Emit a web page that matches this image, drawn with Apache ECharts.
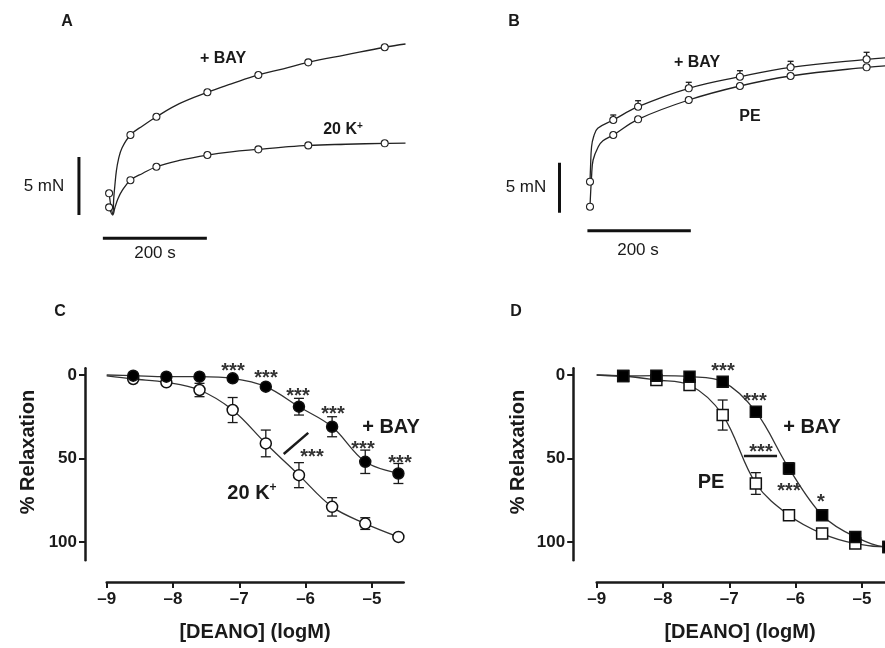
<!DOCTYPE html>
<html><head><meta charset="utf-8">
<script src="https://cdn.jsdelivr.net/npm/echarts@6/dist/echarts.min.js"></script>
<style>html,body{margin:0;padding:0;background:#fff}#c{width:885px;height:648px}</style>
</head><body><div id="c"></div>
<script>
// ---------- Panel A: force traces (time s, force mN) ----------
const aTimeBay  = [-5, 2, 4, 6, 9, 13, 20, 36, 60, 86, 130, 184, 230, 282, 330, 378, 450, 525, 565];
const aForceBay = [1.87, 0.1, 1.5, 2.5, 3.8, 4.8, 5.8, 6.9, 7.7, 8.47, 9.6, 10.58, 11.3, 12.07, 12.6, 13.16, 13.8, 14.46, 14.74];
const aTimeK    = [-5, 2, 6, 12, 20, 36, 60, 86, 130, 184, 230, 282, 330, 378, 450, 525, 565];
const aForceK   = [0.66, 0.0, 0.6, 1.4, 2.1, 3.0, 3.6, 4.16, 4.7, 5.17, 5.45, 5.66, 5.85, 6.0, 6.1, 6.18, 6.2];
const aMarkT    = [-5, 36, 86, 184, 282, 378, 525];
const aMarkBay  = [1.87, 6.9, 8.47, 10.58, 12.07, 13.16, 14.46];
const aMarkK    = [0.66, 3.0, 4.16, 5.17, 5.66, 6.0, 6.18];
// ---------- Panel B ----------
const bTimeBay  = [0, 1, 3, 7, 15, 45, 93, 191, 290, 388, 535, 580];
const bForceBay = [3.1, 4.5, 6.6, 7.6, 8.44, 9.27, 10.6, 12.44, 13.6, 14.54, 15.34, 15.5];
const bTimePE   = [0, 3, 6, 16, 25, 45, 93, 191, 290, 388, 535, 580];
const bForcePE  = [0.6, 3.6, 5.27, 6.6, 7.2, 7.77, 9.34, 11.27, 12.67, 13.67, 14.54, 14.7];
const bMarkT    = [0, 45, 93, 191, 290, 388, 535];
const bMarkBay  = [3.1, 9.27, 10.6, 12.44, 13.6, 14.54, 15.34];
const bMarkBayErr = [0, 0.5, 0.6, 0.6, 0.6, 0.6, 0.7];
const bMarkPE   = [0.6, 7.77, 9.34, 11.27, 12.67, 13.67, 14.54];
// scale bars: [time, force] endpoints
const aScaleV = [[-63, 0], [-63, 5]];
const aScaleH = [[-17, -2], [183, -2]];
const bScaleV = [[-59, 0], [-59, 5]];
const bScaleH = [[-5, -1.8], [195, -1.8]];
// ---------- Panels C & D: concentration-response ----------
const logX     = [-8.6, -8.1, -7.6, -7.1, -6.6, -6.1, -5.6, -5.1, -4.6];
const cK       = [2.4, 4.4, 9, 21, 41, 60, 79, 89, 97];
const cKErr    = [0, 0, 4, 7.5, 8, 7.5, 5.5, 3.5, 0];
const cBay     = [0.4, 1, 1, 2, 7, 19, 31, 52, 59];
const cBayErr  = [0, 0, 0, 0, 1, 5, 6, 7, 6];
const dPE      = [0.6, 3, 6, 24, 65, 84, 95, 101, 103];
const dPEErr   = [0, 0, 3, 9, 6.5, 2, 0, 0, 0];
const dBay     = [0.6, 0.4, 1, 4, 22, 56, 84, 97, 103];
const dBayErr  = [0, 0, 0, 0, 2, 3.5, 2, 0, 0];
// fitted curve start values at log = -9
const curveStartX = -9;
const cKStart = 0.5, cBayStart = 0, dPEStart = 0, dBayStart = 0;
const dCurveEndX = -4.3;
const xTicks = [-9, -8, -7, -6, -5];
const yTicks = [0, 50, 100];
// significance bars
const cSlash = [[-6.33, 47.3], [-5.96, 34.7]];
const dBar   = [[-6.78, 48.5], [-6.28, 48.5]];

const FONT = 'Liberation Sans, Arial, Helvetica, sans-serif';
const INK = '#1a1a1a';
const zip = (a, b) => a.map((v, i) => [v, b[i]]);
const zip3 = (a, b, c) => a.map((v, i) => [v, b[i], c[i]]);

const chart = echarts.init(document.getElementById('c'), null, {renderer: 'canvas'});

function hiddenAxes(idx, min, max, ymin, ymax) {
  return {
    x: {gridIndex: idx, type: 'value', min: min, max: max, show: false},
    y: {gridIndex: idx, type: 'value', min: ymin, max: ymax, show: false}
  };
}
const aAx = hiddenAxes(0, -100, 600, -3, 16);
const bAx = hiddenAxes(1, -100, 570.6, -3, 18);

function doseX(idx, max) {
  return {
    gridIndex: idx, type: 'value', min: -9, max: max, position: 'bottom', offset: 21.7,
    axisLine: {show: true, onZero: false, lineStyle: {color: INK, width: 2.5}},
    axisTick: {show: true, length: 6, lineStyle: {color: INK, width: 2}, customValues: xTicks},
    axisLabel: {show: true, customValues: xTicks, margin: 9, color: INK, fontSize: 17, fontWeight: 'bold', fontFamily: FONT,
      formatter: v => (v < 0 ? '\u2013' + Math.abs(v) : String(v))},
    splitLine: {show: false}
  };
}
function doseY(idx, off) {
  return {
    gridIndex: idx, type: 'value', min: -4, max: 111, inverse: true, position: 'left', offset: off,
    axisLine: {show: true, onZero: false, lineStyle: {color: INK, width: 2.5}},
    axisTick: {show: true, length: 6, lineStyle: {color: INK, width: 2}, customValues: yTicks},
    axisLabel: {show: true, customValues: yTicks, margin: 8, color: INK, fontSize: 17, fontWeight: 'bold', fontFamily: FONT},
    splitLine: {show: false}
  };
}

function errBars(xi, yi, data, upOnly, capHalf) {
  return {
    type: 'custom', xAxisIndex: xi, yAxisIndex: yi, z: 3, silent: true, clip: false,
    data: data,
    renderItem: function (params, api) {
      const x = api.value(0), y = api.value(1), e = api.value(2);
      if (!(e > 0)) return null;
      const p1 = api.coord([x, y + e]);
      const p2 = upOnly ? api.coord([x, y]) : api.coord([x, y - e]);
      const st = {stroke: INK, lineWidth: 1.3};
      const kids = [{type: 'line', shape: {x1: p1[0], y1: p1[1], x2: p2[0], y2: p2[1]}, style: st}];
      kids.push({type: 'line', shape: {x1: p1[0] - capHalf, y1: p1[1], x2: p1[0] + capHalf, y2: p1[1]}, style: st});
      if (!upOnly) kids.push({type: 'line', shape: {x1: p2[0] - capHalf, y1: p2[1], x2: p2[0] + capHalf, y2: p2[1]}, style: st});
      return {type: 'group', children: kids};
    }
  };
}

function traceLine(xi, data) {
  return {type: 'line', xAxisIndex: xi, yAxisIndex: xi, data: data, smooth: 0.4, showSymbol: false, symbol: 'none', clip: false,
    lineStyle: {color: '#222', width: 1.3}, z: 2, silent: true};
}
function traceMarks(xi, data) {
  return {type: 'scatter', xAxisIndex: xi, yAxisIndex: xi, data: data, symbol: 'circle', symbolSize: 7, clip: false,
    itemStyle: {color: '#fff', borderColor: '#222', borderWidth: 1.1, opacity: 1}, z: 5, silent: true};
}
function bar(xi, data) {
  return {type: 'line', xAxisIndex: xi, yAxisIndex: xi, data: data, symbol: 'none', clip: false,
    lineStyle: {color: '#111', width: 3}, z: 2, silent: true};
}
function curve(xi, data) {
  return {type: 'line', xAxisIndex: xi, yAxisIndex: xi, data: data, smooth: 0.35, symbol: 'none', clip: false,
    lineStyle: {color: '#333', width: 1.3}, z: 2, silent: true};
}
function marks(xi, data, sym, filled) {
  return {type: 'scatter', xAxisIndex: xi, yAxisIndex: xi, data: data, symbol: sym, symbolSize: 11, clip: false,
    itemStyle: {color: filled ? '#000' : '#fff', borderColor: '#111', borderWidth: 1.5, opacity: 1}, z: filled ? 6 : 5, silent: true};
}

const cKCurve = [[curveStartX, cKStart]].concat(zip(logX, cK));
const cBayCurve = [[curveStartX, cBayStart]].concat(zip(logX, cBay));
const dPECurve = [[curveStartX, dPEStart]].concat(zip(logX, dPE)).concat([[dCurveEndX, dPE[dPE.length - 1]]]);
const dBayCurve = [[curveStartX, dBayStart]].concat(zip(logX, dBay)).concat([[dCurveEndX, dBay[dBay.length - 1]]]);

function txt(x, y, text, size, weight, extra) {
  return Object.assign({type: 'text', x: x, y: y, silent: true, z: 10,
    style: {text: text, fill: INK, font: (weight || 'bold') + ' ' + size + 'px ' + FONT, textAlign: 'center', textVerticalAlign: 'middle'}}, extra || {});
}
function stars(x, y, s) {
  return {type: 'text', x: x, y: y + 5, silent: true, z: 10,
    style: {text: s || '***', fill: '#333', font: 'bold 20px ' + FONT, textAlign: 'center', textVerticalAlign: 'middle'}};
}
function kplus(x, y, size) {
  return {type: 'text', x: x, y: y, silent: true, z: 10,
    style: {text: '{a|20 K}{s|+}', textAlign: 'center', textVerticalAlign: 'middle',
      rich: {a: {font: 'bold ' + size + 'px ' + FONT, fill: INK}, s: {font: 'bold ' + Math.round(size * 0.6) + 'px ' + FONT, fill: INK, verticalAlign: 'top', padding: [0, 0, Math.round(size * 0.5), 0]}}}};
}

const option = {
  animation: false,
  backgroundColor: '#fff',
  grid: [
    {left: 59.7, top: 29.4, width: 364, height: 220.4},
    {left: 538.3, top: 32.7, width: 346.7, height: 210},
    {left: 106.7, top: 368.3, width: 297, height: 192},
    {left: 596.7, top: 368.3, width: 288.3, height: 192}
  ],
  xAxis: [aAx.x, bAx.x, doseX(2, -4.52), doseX(3, -4.652)],
  yAxis: [aAx.y, bAx.y, doseY(2, 21.7), doseY(3, 23.5)],
  series: [
    // A
    bar(0, aScaleV), bar(0, aScaleH),
    traceLine(0, zip(aTimeBay, aForceBay)), traceLine(0, zip(aTimeK, aForceK)),
    traceMarks(0, zip(aMarkT, aMarkBay)), traceMarks(0, zip(aMarkT, aMarkK)),
    // B
    bar(1, bScaleV), bar(1, bScaleH),
    traceLine(1, zip(bTimeBay, bForceBay)), traceLine(1, zip(bTimePE, bForcePE)),
    errBars(1, 1, zip3(bMarkT, bMarkBay, bMarkBayErr), true, 3),
    traceMarks(1, zip(bMarkT, bMarkBay)), traceMarks(1, zip(bMarkT, bMarkPE)),
    // C
    curve(2, cKCurve), curve(2, cBayCurve),
    errBars(2, 2, zip3(logX, cK, cKErr), false, 5),
    errBars(2, 2, zip3(logX, cBay, cBayErr), false, 5),
    marks(2, zip(logX, cK), 'circle', false),
    marks(2, zip(logX, cBay), 'circle', true),
    {type: 'line', xAxisIndex: 2, yAxisIndex: 2, data: cSlash, symbol: 'none', lineStyle: {color: INK, width: 2.5}, z: 4, silent: true},
    // D
    curve(3, dPECurve), curve(3, dBayCurve),
    errBars(3, 3, zip3(logX, dPE, dPEErr), false, 5),
    errBars(3, 3, zip3(logX, dBay, dBayErr), false, 5),
    marks(3, zip(logX, dPE), 'rect', false),
    marks(3, zip(logX, dBay), 'rect', true),
    {type: 'line', xAxisIndex: 3, yAxisIndex: 3, data: dBar, symbol: 'none', lineStyle: {color: INK, width: 2.5}, z: 4, silent: true}
  ],
  graphic: [
    // panel letters
    txt(67, 22, 'A', 16), txt(514, 22, 'B', 16), txt(60, 312, 'C', 16), txt(516, 312, 'D', 16),
    // A annotations
    txt(223, 59, '+ BAY', 16), kplus(343, 130, 16),
    txt(44, 186, '5 mN', 17, 'normal'), txt(155, 253, '200 s', 17, 'normal'),
    // B annotations
    txt(697, 63, '+ BAY', 16), txt(750, 117, 'PE', 16),
    txt(526, 187, '5 mN', 17, 'normal'), txt(638, 250, '200 s', 17, 'normal'),
    // C annotations
    stars(233, 366), stars(266, 373), stars(298, 391), stars(333, 409), stars(363, 444), stars(400, 458), stars(312, 452),
    txt(391, 427, '+ BAY', 20), kplus(252, 493, 20),
    txt(28, 452, '% Relaxation', 20, 'bold', {rotation: Math.PI / 2}),
    txt(255, 632, '[DEANO] (logM)', 20),
    // D annotations
    stars(723, 366), stars(755, 396), stars(761, 447), stars(789, 486), stars(821, 497, '*'),
    txt(812, 427, '+ BAY', 20), txt(711, 482, 'PE', 20),
    txt(518, 452, '% Relaxation', 20, 'bold', {rotation: Math.PI / 2}),
    txt(740, 632, '[DEANO] (logM)', 20)
  ]
};
chart.setOption(option);
</script>
</body></html>
